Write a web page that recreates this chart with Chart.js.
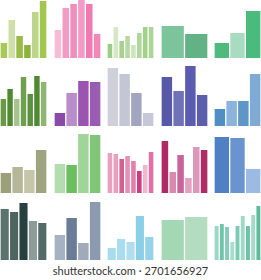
<!doctype html>
<html lang="en">
<head>
    <meta charset="utf-8">
    <title>Bar chart set</title>
    <script src="https://cdn.jsdelivr.net/npm/chart.js"></script>
    <style>
        body { margin: 0; background: #fff; width: 261px; height: 280px; overflow: hidden; position: relative; }
        canvas { position: absolute; }
        .credit { position: absolute; left: 0; width: 261px; top: 264px; text-align: center;
                  font-family: Lato, "Open Sans", sans-serif; font-size: 11px; color: #333; }
    </style>
</head>
<body>
    <div id="board"></div>
    <div class="credit">shutterstock.com · 2701656927</div>

    <script>
        // bar heights, each row has 5 little charts
        const valuesRow1 = [
            [15, 38, 22, 13, 46, 57],
            [28, 50, 54, 58, 54, 24],
            [14, 31, 17, 22, 13, 25, 31, 31],
            [32, 24],
            [15, 25, 47]
        ];
        const colorsRow1 = [
            ['#a9c85a', '#cfe0a6', '#97bb45', '#8cb33a', '#bdd58a', '#a3c64f'],
            ['#f8bcd6', '#f29cc4', '#f08dbc', '#f49ac5', '#f07ab1', '#f288b8'],
            ['#9ccd86', '#d5e8c6', '#a8d190', '#b5d9a0', '#cbe4bb', '#b0d79b', '#a2d18c', '#acd597'],
            ['#7cc49c', '#62b285'],
            ['#4fba7e', '#a8dbbf', '#4bba7d']
        ];

        const valuesRow2 = [
            [27, 37, 27, 49, 32, 50, 44],
            [13, 33, 45, 44],
            [58, 52, 33, 13],
            [49, 35, 60, 31],
            [17, 25, 25, 52]
        ];
        const colorsRow2 = [
            ['#6a9a45', '#4e8a30', '#a5c38f', '#6ea050', '#5a9040', '#4f8a30', '#8fb575'],
            ['#8a4aa8', '#b98ccb', '#9b55b0', '#9a5cb2'],
            ['#d0d0da', '#c4c6d6', '#a2a4c0', '#c6c8da'],
            ['#5658a8', '#7072b8', '#5a5cb0', '#5c5eac'],
            ['#4f8fc4', '#8ab4dc', '#5e96c8', '#7eaad4']
        ];

        const valuesRow3 = [
            [20, 26, 23, 43],
            [29, 28, 59, 58],
            [40, 39, 34, 37, 32, 22, 28, 41],
            [52, 21, 38, 15, 46, 43],
            [56, 55, 24]
        ];
        const colorsRow3 = [
            ['#9ca07a', '#b4b898', '#c4c6aa', '#9ea480'],
            ['#b4dcb0', '#6cbf5e', '#a0d498', '#80c678'],
            ['#e8a2c0', '#e7a0bf', '#d55e92', '#e590b8', '#e080ac', '#cc3c80', '#f0b8d0', '#e070a6'],
            ['#b02a66', '#d88aae', '#c8649a', '#e0a2c0', '#dc98ba', '#b02c66'],
            ['#4f80c4', '#6a94d0', '#9cbbe4']
        ];

        const valuesRow4 = [
            [51, 48, 57, 39, 37],
            [25, 42, 17, 58],
            [12, 21, 18, 44, 23],
            [40, 43],
            [34, 36, 33, 18, 34, 44, 34, 45, 54]
        ];
        const colorsRow4 = [
            ['#5c726c', '#4e6660', '#284040', '#8e9c98', '#546a66'],
            ['#a6b2c4', '#6a7c98', '#a0aabc', '#8c9ab0'],
            ['#a6dcec', '#a8dcee', '#b0def0', '#8ccfe8', '#94d2ea'],
            ['#a4d8b4', '#b4dcc0'],
            ['#9cd6c4', '#70c4aa', '#84ccb6', '#a8dccb', '#7ccab2', '#a0d8c6', '#6cc2a6', '#a4dac8', '#5cbc9c']
        ];

        const rows = [
            { values: valuesRow1, colors: colorsRow1, base: 58 },
            { values: valuesRow2, colors: colorsRow2, base: 126 },
            { values: valuesRow3, colors: colorsRow3, base: 193 },
            { values: valuesRow4, colors: colorsRow4, base: 260 }
        ];

        const panelW = 47;
        const panelH = 60;
        const board = document.getElementById('board');

        rows.forEach(function (row) {
            row.values.forEach(function (vals, col) {
                const cv = document.createElement('canvas');
                cv.width = panelW;
                cv.height = panelH;
                cv.style.left = Math.round(col * 53.5) + 'px';
                cv.style.top = (row.base - panelH) + 'px';
                board.appendChild(cv);

                const gap = 1.3;
                const slot = panelW / vals.length;

                new Chart(cv.getContext('2d'), {
                    type: 'bar',
                    data: {
                        labels: vals.map(function (v, i) { return 'b' + i; }),
                        datasets: [{
                            data: vals,
                            backgroundColor: row.colors[col],
                            borderWidth: 0,
                            categoryPercentage: 1,
                            barPercentage: 1 - gap / slot
                        }]
                    },
                    options: {
                        responsive: false,
                        animation: false,
                        devicePixelRatio: 1,
                        layout: { padding: 0 },
                        plugins: { legend: { display: false }, tooltip: { enabled: false } },
                        scales: {
                            x: { display: false },
                            y: { display: false, min: 0, max: panelH }
                        }
                    }
                });
            });
        });
    </script>
</body>
</html>
